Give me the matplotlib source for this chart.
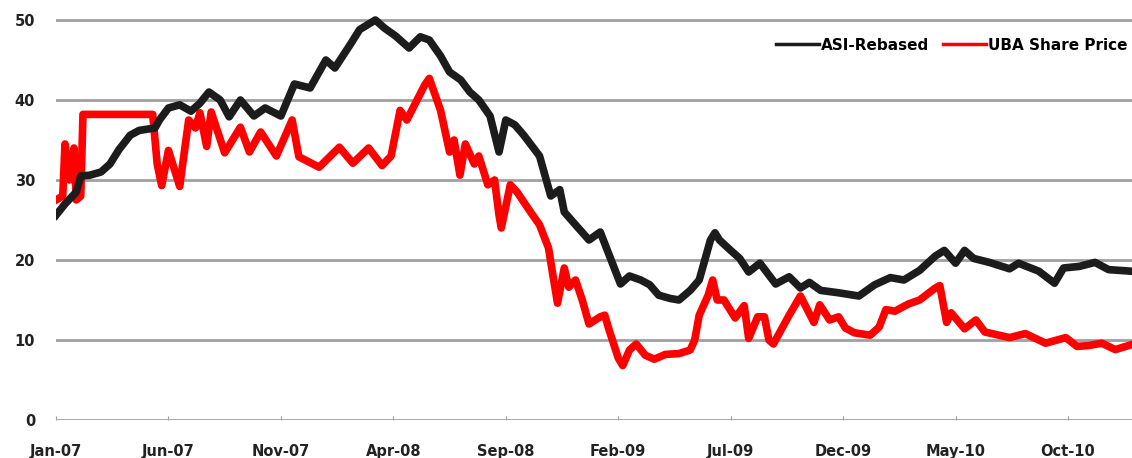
import numpy as np
import matplotlib
matplotlib.use("Agg")
import matplotlib.pyplot as plt

# months since Jan-07
asi_months = [0, 0.4, 0.9, 1.1, 1.5, 2.0, 2.4, 2.8, 3.3, 3.7, 4.4, 4.6, 5.0, 5.5, 6.0, 6.4,
              6.8, 7.3, 7.7, 8.2, 8.8, 9.3, 10.0, 10.6, 11.3, 12.0, 12.4, 13.1, 13.5, 14.2,
              14.6, 15.1, 15.7, 16.2, 16.6, 17.1, 17.5, 18.0, 18.4, 18.8, 19.3, 19.7, 20.0,
              20.4, 20.8, 21.5, 22.0, 22.4, 22.6, 23.1, 23.7, 24.2, 24.6, 25.1, 25.5, 26.0,
              26.4, 26.8, 27.3, 27.7, 28.2, 28.6, 29.1, 29.3, 29.5, 30.0, 30.4, 30.8, 31.3,
              32.0, 32.6, 33.1, 33.5, 34.0, 34.8, 35.7, 36.4, 37.1, 37.7, 38.4, 39.1, 39.5,
              40.0, 40.4, 40.8, 41.5, 42.4, 42.8, 43.7, 44.4, 44.8, 45.5, 46.2, 46.8, 47.8]
asi_values = [25.6, 27, 28.5, 30.5, 30.6, 31, 32, 33.8, 35.6, 36.2, 36.5, 37.5, 39, 39.4, 38.6, 39.6,
              41, 40, 37.9, 40, 38, 39, 38, 42, 41.5, 45, 44, 47, 48.8, 50,
              49, 48, 46.5, 47.9, 47.5, 45.5, 43.5, 42.5, 41, 40, 38, 33.5, 37.5,
              36.9, 35.6, 33, 28, 28.8, 26, 24.4, 22.5, 23.5, 20.6, 17, 18, 17.5,
              16.9, 15.6, 15.2, 15, 16.2, 17.5, 22.5, 23.4, 22.5, 21.2, 20.2, 18.5, 19.6,
              17, 17.9, 16.5, 17.2, 16.2, 15.9, 15.5, 16.9, 17.8, 17.5, 18.7, 20.5, 21.2,
              19.6, 21.2, 20.2, 19.7, 18.9, 19.6, 18.6, 17.1, 19, 19.2, 19.7, 18.8, 18.6]

uba_months = [0, 0.3, 0.4, 0.6, 0.8, 0.9, 1.1, 1.2, 4.3, 4.5, 4.7, 5.0, 5.3, 5.5, 5.9, 6.2,
              6.4, 6.7, 6.9, 7.5, 8.2, 8.6, 9.1, 9.8, 10.5, 10.8, 11.7, 12.6, 13.2, 13.9,
              14.5, 14.9, 15.3, 15.6, 16.4, 16.6, 17.1, 17.5, 17.7, 17.96, 18.2, 18.6, 18.8,
              19.2, 19.5, 19.7, 19.8, 20.2, 20.5, 21.1, 21.5, 21.9, 22.1, 22.3, 22.6, 22.8,
              23.1, 23.4, 23.7, 24.2, 24.4, 24.6, 25.0, 25.2, 25.5, 25.8, 26.2, 26.6, 27.1,
              27.7, 28.2, 28.4, 28.6, 29.0, 29.2, 29.4, 29.7, 30.2, 30.6, 30.8, 31.2, 31.5,
              31.7, 31.9, 32.6, 33.1, 33.7, 33.96, 34.4, 34.8, 35.1, 35.5, 36.2, 36.6, 36.9,
              37.3, 37.9, 38.4, 39.1, 39.3, 39.6, 39.8, 40.4, 40.9, 41.3, 42.4, 43.1, 44.0,
              44.9, 45.4, 45.9, 46.5, 47.1, 47.8]
uba_values = [27.5, 28, 34.5, 30, 34, 27.5, 28, 38.2, 38.2, 32, 29.3, 33.7, 31, 29.2, 37.5, 36.5,
              38.4, 34.2, 38.5, 33.4, 36.6, 33.5, 36, 33, 37.5, 32.9, 31.6, 34.1, 32.1, 34,
              31.8, 33, 38.7, 37.5, 41.9, 42.7, 38.7, 33.5, 35, 30.6, 34.5, 32, 33,
              29.4, 30, 25.6, 24, 29.4, 28.5, 26, 24.4, 21.5, 18, 14.6, 19, 16.6,
              17.5, 15, 12, 12.9, 13.1, 11.2, 7.75, 6.8, 8.75, 9.5, 8.1, 7.6, 8.2,
              8.3, 8.75, 10, 13.1, 15.6, 17.5, 15, 15, 12.75, 14.3, 10.2, 12.9, 12.9,
              10, 9.5, 13.1, 15.5, 12.2, 14.4, 12.5, 12.9, 11.5, 10.9, 10.6, 11.6, 13.8,
              13.6, 14.5, 15, 16.5, 16.8, 12.2, 13.4, 11.4, 12.5, 11, 10.3, 10.8, 9.6,
              10.3, 9.2, 9.3, 9.6, 8.8, 9.4]

tick_months = [0, 5, 10, 15, 20, 25, 30, 35, 40, 45]
tick_labels = ["Jan-07", "Jun-07", "Nov-07", "Apr-08", "Sep-08", "Feb-09",
               "Jul-09", "Dec-09", "May-10", "Oct-10"]
y_ticks = [0, 10, 20, 30, 40, 50]

plt.rcParams['font.family'] = ['DejaVu Sans']
plt.rcParams['font.weight'] = 'bold'

fig = plt.figure(figsize=(11.32, 4.58), dpi=100)
ax = fig.add_axes([56 / 1132, 38 / 458, 1084 / 1132, 408 / 458])

for yv in y_ticks:
    ax.axhline(yv, color="#a0a0a0", lw=2.0, zorder=1)

ax.plot(asi_months, asi_values, color="#1c1c1c", lw=5.5, label="ASI-Rebased",
        solid_joinstyle="round", zorder=3)
ax.plot(uba_months, uba_values, color="#ff0000", lw=5.5, label="UBA Share Price",
        solid_joinstyle="round", zorder=2)

ax.set_xlim(0, 48.2)
ax.set_ylim(0, 51)
for s in ax.spines.values():
    s.set_visible(False)

ax.set_xticks(tick_months)
ax.set_xticklabels(tick_labels)
ax.set_yticks(y_ticks)
ax.tick_params(axis="y", length=0, pad=15, labelsize=10.5, labelcolor="#222222")
ax.tick_params(axis="x", length=3, direction="in", color="#a0a0a0", pad=17,
               labelsize=10.5, labelcolor="#222222")

fig.legend(loc="center left", bbox_to_anchor=(776 / 1132, 1 - 45 / 458), ncol=2,
           frameon=False, fontsize=11, handlelength=2.8, handletextpad=0.15,
           columnspacing=0.9, borderaxespad=0, borderpad=0)
for line in fig.legends[0].get_lines():
    line.set_linewidth(2.5)

fig.savefig("out.png", dpi=100)
